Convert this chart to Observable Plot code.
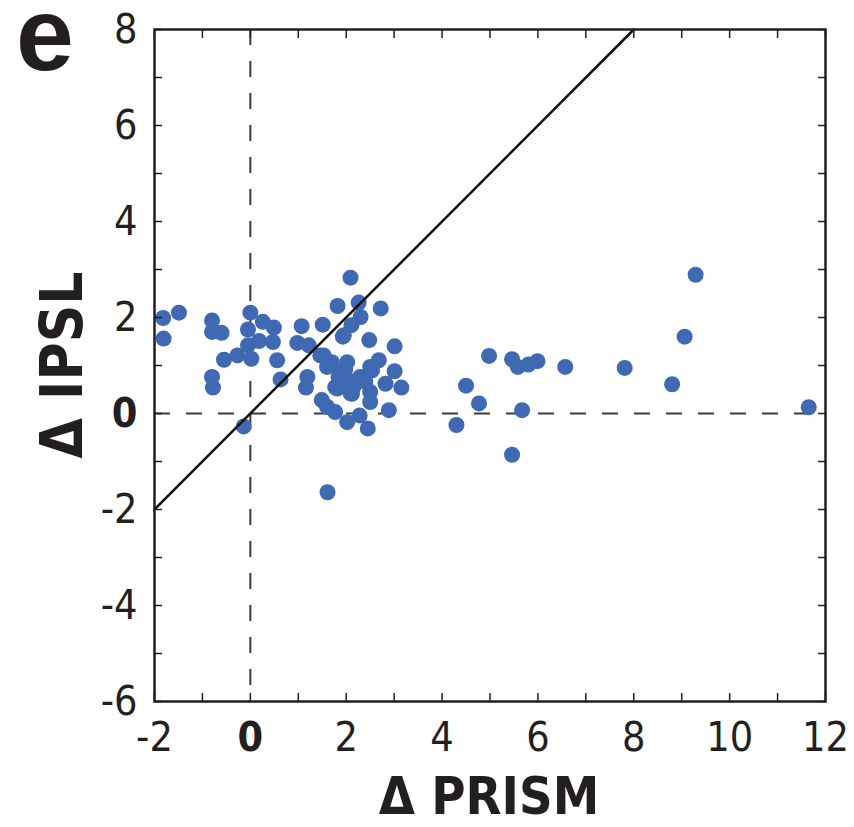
<!DOCTYPE html>
<html><head><meta charset="utf-8">
<script src="https://cdn.jsdelivr.net/npm/d3@7"></script>
<script src="https://cdn.jsdelivr.net/npm/@observablehq/plot@0.6"></script>
<style>body{margin:0;background:#fff} svg{display:block}</style>
</head><body><div id="chart"></div>
<script>
// Δ PRISM (x) and Δ IPSL (y) values
const prism = [
  -1.82,-1.81,-1.49,-0.80,-0.80,-0.60,0.00,-0.05,0.26,0.49,-0.05,0.18,0.47,-0.27,-0.55,0.02,0.56,-0.80,-0.78,0.63,
  1.07,0.98,1.22,1.19,1.16,-0.14,
  2.09,1.82,2.26,2.72,2.30,2.11,1.51,1.93,2.48,3.01,1.53,1.70,2.02,2.68,3.01,2.50,1.88,1.77,2.05,2.12,2.29,2.82,3.15,2.50,
  2.50,1.49,1.60,1.77,2.02,2.28,2.89,2.45,1.61,1.98,2.15,1.92,1.84,1.81,2.09,2.40,2.54,1.60,1.46,1.95,
  4.30,4.50,4.77,4.98,5.46,5.58,5.80,5.99,5.67,5.46,6.57,7.81,8.80,9.06,9.29,11.65
];
const ipsl = [
  1.99,1.56,2.10,1.94,1.70,1.68,2.10,1.75,1.91,1.79,1.42,1.51,1.49,1.21,1.12,1.14,1.11,0.76,0.54,0.71,
  1.82,1.47,1.42,0.76,0.54,-0.27,
  2.83,2.24,2.31,2.19,2.01,1.84,1.85,1.60,1.53,1.40,1.21,1.07,1.07,1.11,0.88,0.97,0.83,0.55,0.69,0.41,0.76,0.62,0.54,0.45,
  0.24,0.28,0.14,0.03,-0.18,-0.04,0.07,-0.31,-1.64,0.92,0.55,0.62,0.76,0.52,0.42,0.66,0.90,0.97,1.21,1.63,
  -0.24,0.58,0.21,1.20,1.13,0.97,1.02,1.09,0.07,-0.86,0.97,0.95,0.61,1.60,2.89,0.13
];
const xLabelTicks = [-2, 0, 2, 4, 6, 8, 10, 12];
const yLabelTicks = [-6, -4, -2, 0, 2, 4, 6, 8];
const xAllTicks = [-2,-1,0,1,2,3,4,5,6,7,8,9,10,11,12];
const yAllTicks = [-6,-5,-4,-3,-2,-1,0,1,2,3,4,5,6,7,8];
const oneToOne = [-2, 8];
const xTitle = "Δ PRISM";
const yTitle = "Δ IPSL";
const panel = "e";

const points = prism.map((x, i) => ({x, y: ipsl[i]}));
const diag = oneToOne.map(v => ({x: v, y: v}));
const FONT = '"Liberation Sans Narrow","DejaVu Sans Condensed","Open Sans",sans-serif';
const INK = "#231f20";

const chart = Plot.plot({
  width: 854, height: 827,
  marginLeft: 154, marginRight: 29, marginTop: 29, marginBottom: 126,
  x: {domain: [-2, 12]},
  y: {domain: [-6, 8]},
  style: {fontFamily: FONT, background: "white", color: INK},
  marks: [
    Plot.ruleX([0], {stroke: "#3a3a3a", strokeWidth: 2, strokeDasharray: "16,16"}),
    Plot.ruleY([0], {stroke: "#3a3a3a", strokeWidth: 2, strokeDasharray: "16,16"}),
    Plot.dot(points, {x: "x", y: "y", r: 8, fill: "#3f69b3", stroke: "none"}),
    Plot.line(diag, {x: "x", y: "y", stroke: "#111", strokeWidth: 2.5}),
    Plot.axisX(xAllTicks, {anchor: "bottom", tickSize: 8, dy: -8, fill: "none", label: null, strokeWidth: 1.5}),
    Plot.axisX(xAllTicks, {anchor: "top", tickSize: 8, dy: 8, fill: "none", label: null, strokeWidth: 1.5}),
    Plot.axisY(yAllTicks, {anchor: "left", tickSize: 8, dx: 8, fill: "none", label: null, strokeWidth: 1.5}),
    Plot.axisY(yAllTicks, {anchor: "right", tickSize: 8, dx: -8, fill: "none", label: null, strokeWidth: 1.5}),
    Plot.axisX(xLabelTicks, {anchor: "bottom", tickSize: 0, tickPadding: 20, fontSize: 41, label: null, tickFormat: d => String(d)}),
    Plot.axisY(yLabelTicks, {anchor: "left", tickSize: 0, tickPadding: 17, fontSize: 41, label: null, tickFormat: d => String(d)}),
    Plot.frame({stroke: INK, strokeWidth: 2.5})
  ]
});
document.getElementById("chart").append(chart);

const svg = d3.select(chart);
svg.selectAll("text").filter(function() { return this.textContent === "0"; }).attr("font-weight", "bold");

svg.append("text").text(panel)
  .attr("x", 16).attr("y", 70).attr("text-anchor", "start")
  .attr("font-family", '"Liberation Sans",Arial,sans-serif')
  .attr("font-weight", "bold").attr("font-size", 104).attr("fill", INK);
svg.append("text").text(xTitle)
  .attr("x", 489).attr("y", 814).attr("text-anchor", "middle")
  .attr("font-family", FONT).attr("font-weight", "bold").attr("font-size", 52).attr("fill", INK);
svg.append("text").text(yTitle)
  .attr("transform", "translate(82,365) rotate(-90)").attr("text-anchor", "middle")
  .attr("font-family", FONT).attr("font-weight", "bold").attr("font-size", 58).attr("fill", INK);
</script>
</body></html>
